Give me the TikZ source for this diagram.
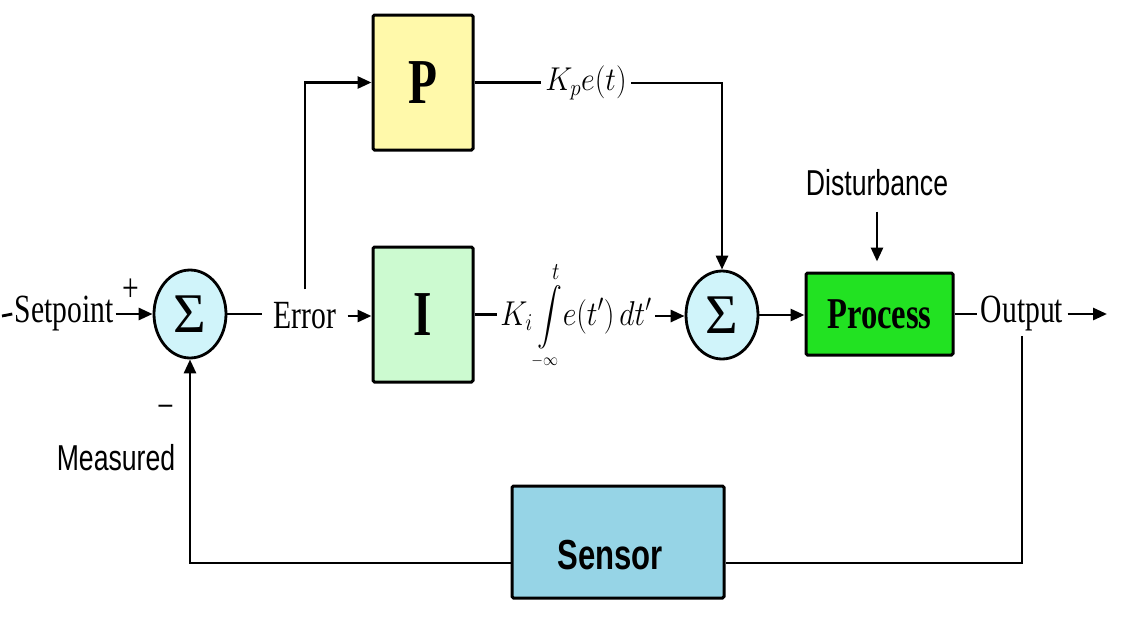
\RequirePackage{fix-cm}
\documentclass[tikz,border=0pt]{standalone}
\usepackage{amsmath}
\usepackage{fontspec}
\setmainfont{Liberation Serif}
\newfontfamily\serifc[FakeStretch=0.74]{Liberation Serif}
\newfontfamily\sansc[FakeStretch=0.74]{Liberation Sans}
\newfontfamily\sigmaf{Liberation Serif}
\usetikzlibrary{arrows.meta,shapes.geometric}
\definecolor{pfill}{RGB}{255,249,170}
\definecolor{ifill}{RGB}{204,250,208}
\definecolor{procfill}{RGB}{34,226,34}
\definecolor{sensfill}{RGB}{150,212,230}
\definecolor{sumfill}{RGB}{208,244,250}
\begin{document}
\begin{tikzpicture}[x=1pt,y=-1pt,line width=2.8pt,
  blk/.style={draw,line width=3pt,rounded corners=1.5pt,inner sep=0pt},
  sumc/.style={draw,ellipse,fill=sumfill,line width=2.8pt,minimum width=72pt,minimum height=88pt,inner sep=0pt,font=\sigmaf\fontsize{56}{56}\selectfont},
  arr/.style={-{Triangle[length=14pt,width=12pt]}},
  serlbl/.style={inner sep=3pt,font=\serifc\fontsize{40}{44}\selectfont},
  sanslbl/.style={inner sep=2pt,font=\sansc\fontsize{36}{40}\selectfont},
  mathlbl/.style={inner sep=3pt,font=\fontsize{30}{36}\selectfont}]
\useasboundingbox (0,0) rectangle (1124,643);

% blocks
\node[blk,fill=pfill,minimum width=100pt,minimum height=135pt,font=\serifc\bfseries\fontsize{64}{64}\selectfont] (P) at (423,82.5) {P};
\node[blk,fill=ifill,minimum width=100pt,minimum height=135pt,font=\serifc\bfseries\fontsize{64}{64}\selectfont] (I) at (423,314.5) {I};
\node[sumc] (S1) at (190,314) {Σ};
\node[sumc] (S2) at (722,315) {Σ};
\node[blk,fill=procfill,minimum width=147pt,minimum height=82pt,font=\serifc\bfseries\fontsize{44}{44}\selectfont] (Proc) at (879.5,314) {Process};
\node[blk,fill=sensfill,minimum width=212pt,minimum height=112pt] (Sens) at (618,542) {};
\node[font=\sansc\bfseries\fontsize{42}{42}\selectfont,inner sep=0pt] (SensT) at (610,555) {Sensor};

% labels
\coordinate (In) at (2,316);
\node[serlbl,inner sep=1pt] (SP) at (64,314) {Setpoint};
\node[serlbl] (Plus) at (131,290) {+};
\node[serlbl] (Minus) at (166,412) {−};
\node[sanslbl] (Meas) at (116,458) {Measured};
\node[serlbl,inner xsep=10pt,inner ysep=12pt] (Err) at (305,316) {Error};
\node[mathlbl] (Kp) at (586,83) {\scalebox{1}[1.1]{$K_p e(t)$}};
\node[mathlbl,inner xsep=2pt] (Ki) at (576,316) {\scalebox{1}[1.15]{$K_i\displaystyle\int\limits_{\makebox[0pt]{$\scriptscriptstyle-\infty$}}^{t}\! e(t')\,dt'$}};
\node[sanslbl] (Dist) at (877,183) {Disturbance};
\node[serlbl] (Out) at (1022,314) {Output};
\coordinate (OutEnd) at (1107,314);

% connectors
\draw (In) -- (SP.west);
\draw[arr] (SP.east) -- (S1.west);
\draw (S1.east) -- (S1.east -| Err.west);
\draw[arr] (Err.east) -- (Err.east -| I.west);
\draw[arr] (Err.north) |- (P.west);
\draw (P.east) -- (P.east -| Kp.west);
\draw[arr] (Kp.east) -| (S2.north);
\draw (I.east) -- (I.east -| Ki.west);
\draw[arr] (Ki.east) -- (Ki.east -| S2.west);
\draw[arr] (S2.east) -- (S2.east -| Proc.west);
\draw[arr,shorten <=12pt,shorten >=10pt] (Dist.south) -- (Dist.south |- Proc.north);
\draw (Proc.east) -- (Proc.east -| Out.west);
\draw[arr] (Out.east) -- (OutEnd);
\draw (Out.south) |- ([yshift=-21pt]Sens.east);
\draw[arr] ([yshift=-21pt]Sens.west) -| (S1.south);
\end{tikzpicture}
\end{document}
